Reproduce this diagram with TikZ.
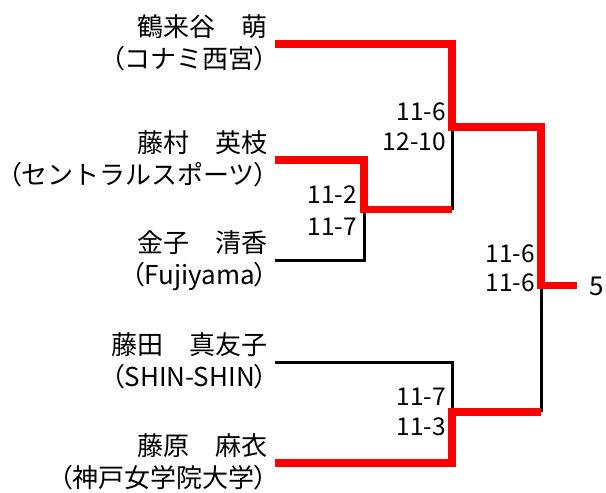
\documentclass[tikz,border=0pt]{standalone}
\usepackage{fontspec}
\setmainfont{Noto Sans CJK JP}
\newfontfamily\pfont[RawFeature=+palt]{Noto Sans CJK JP}
\newcommand{\lp}{{\pfont （}}
\newcommand{\rp}{{\pfont ）}}
\begin{document}
\begin{tikzpicture}[x=1pt,y=-1pt,
  nm/.style={anchor=base east,inner sep=0pt,font=\fontsize{26}{30}\selectfont},
  sc/.style={anchor=base east,inner sep=0pt,font=\fontsize{24.5}{28}\selectfont},
  win/.style={draw=red,line width=7.5pt,line cap=butt,line join=miter},
  lose/.style={draw=black,line width=3pt}]
\useasboundingbox (0,0) rectangle (606,493);
% names
\node[nm] (n1) at (268,36.5) {鶴来谷　萌};
\node[nm] (t1) at (268,68.5) {\lp コナミ西宮\rp};
\node[nm] (n2) at (268,152.5) {藤村　英枝};
\node[nm] (t2) at (268,184.5) {\lp セントラルスポーツ\rp};
\node[nm] (n3) at (268,252.5) {金子　清香};
\node[nm] (t3) at (268,284.5) {\lp Fujiyama\rp};
\node[nm] (n4) at (268,354.5) {藤田　真友子};
\node[nm] (t4) at (268,386.5) {\lp SHIN-SHIN\rp};
\node[nm] (n5) at (268,455.5) {藤原　麻衣};
\node[nm] (t5) at (268,487.5) {\lp 神戸女学院大学\rp};
% scores
\node[sc] (s1a) at (446,120.5) {11-6};
\node[sc] (s1b) at (446,150.5) {12-10};
\node[sc] (s2a) at (357,203.5) {11-2};
\node[sc] (s2b) at (357,235.5) {11-7};
\node[sc] (s3a) at (535,262.5) {11-6};
\node[sc] (s3b) at (535,291.5) {11-6};
\node[sc] (s4a) at (446,405.5) {11-7};
\node[sc] (s4b) at (446,435.5) {11-3};
\node[nm,anchor=base west] (res) at (589,295) {5};
% bracket points
\coordinate (a1) at (275,44);
\coordinate (a2) at (275,160);
\coordinate (a3) at (275,260);
\coordinate (a4) at (275,362);
\coordinate (a5) at (275,463);
\coordinate (m1) at (452,127);
\coordinate (m2) at (452,209.5);
\coordinate (q2) at (364,209.5);
\coordinate (f1) at (541,285.5);
\coordinate (f2) at (541,412);
\coordinate (m4) at (452,412);
\coordinate (fin) at (577,285.5);
% losers (black)
\draw[lose] (a3) -| (q2);
\draw[lose] (m1) -- (m2);
\draw[lose] (f1) -- (f2);
\draw[lose] (a4) -| (m4);
% winners (red)
\draw[win] (a1) -| (m1) -| (f1) -- (fin);
\draw[win] (a2) -| (q2) -- (m2);
\draw[win] (a5) -| (m4) -- (f2);
\end{tikzpicture}
\end{document}
